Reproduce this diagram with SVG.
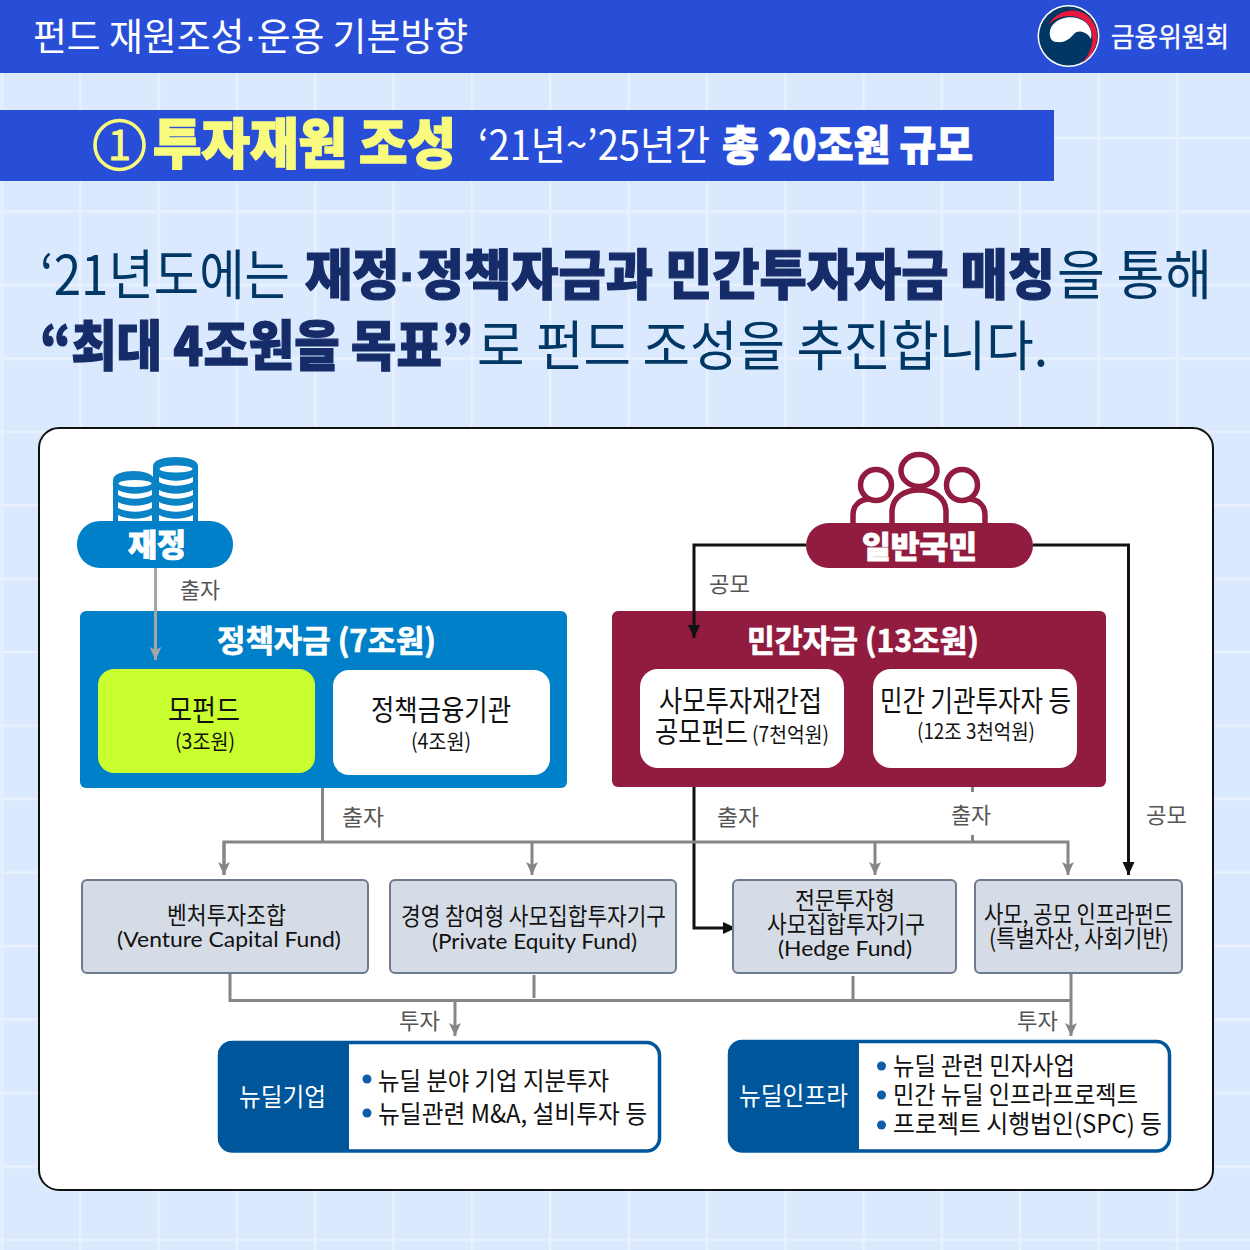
<svg xmlns="http://www.w3.org/2000/svg" width="1250" height="1250" viewBox="0 0 1250 1250">
<style>
text{font-family:"Noto Sans CJK KR","Noto Sans",sans-serif;font-weight:400;white-space:pre}
.w{fill:#fff}.k{fill:#111}
.b{font-weight:700;stroke:#fff;stroke-width:.7}
.h{font-weight:900}
.wh{stroke:#fff;stroke-width:.9}
.hd{fill:#003764;font-size:54px}
.hb{fill:#152c69;font-size:54px;font-weight:900;stroke:#152c69;stroke-width:1.2}
.lab{fill:#555;font-size:22px}
.t29{font-size:29px}.t21{font-size:21px}.t24{font-size:24px}.t25{font-size:25px}
.lat{font-family:"Lato","Noto Sans",sans-serif;font-size:22px}
.dot-f{font-family:"Liberation Sans",sans-serif}
.box{fill:#d6dce6;stroke:#6e7b8f;stroke-width:2}
.g{fill:none;stroke:#868686;stroke-width:3}
.bl{fill:none;stroke:#111;stroke-width:3}
.dark{fill:#00569a}
.dot{fill:#0f5ca8}
.coin{fill:#fff}
</style>
<defs>
<pattern id="grid" patternUnits="userSpaceOnUse" x="0.7" y="63.45" width="78.33" height="73.45">
<rect width="78.33" height="73.45" fill="#dbe9fe"/>
<rect width="2.4" height="73.45" fill="#e9f1fe"/>
<rect width="78.33" height="2.4" fill="#e9f1fe"/>
</pattern>
<marker id="ag" markerUnits="userSpaceOnUse" markerWidth="14" markerHeight="14" refX="13" refY="7" orient="auto"><path d="M0 1 L3 7 L0 13 L13 7 Z" fill="#868686"/></marker>
<marker id="ak" markerUnits="userSpaceOnUse" markerWidth="14" markerHeight="14" refX="13" refY="7" orient="auto"><path d="M0 1 L0 13 L13 7 Z" fill="#111"/></marker>
<marker id="al" markerUnits="userSpaceOnUse" markerWidth="14" markerHeight="14" refX="13" refY="7" orient="auto"><path d="M0 1 L3 7 L0 13 L13 7 Z" fill="#a5a5a5"/></marker>
</defs>
<rect width="1250" height="1250" fill="url(#grid)"/>

<g id="header">
<rect width="1250" height="73" fill="#284ed8"/>
<text class="w" x="33" y="49.500" font-size="38" font-weight="500" textLength="435" lengthAdjust="spacingAndGlyphs">펀드 재원조성<tspan class="dot-f">·</tspan>운용 기본방향</text>
<g id="logo">
<circle cx="1068.500" cy="36" r="31" fill="#fff"/>
<circle cx="1068.500" cy="36" r="29.500" fill="#003764"/>
<path d="M1048 25C1057 10 1076 6 1088 16C1102 29 1100 51 1082 63C1094 50 1096 32 1086 22C1076 13 1059 14 1048 25Z" fill="#e8193c"/>
<path d="M1050 36C1048 22 1064 15 1077 18C1088 21 1093 30 1091 39C1087 32 1079 29 1074 34C1069 40 1063 43 1058 42C1053 42 1051 40 1050 36Z" fill="#fff"/>
</g>
<text class="w wh" x="1111" y="46.500" font-size="27" font-weight="500" textLength="118" lengthAdjust="spacingAndGlyphs" style="stroke-width:.4">금융위원회</text>
</g>

<g id="section-bar">
<rect y="110" width="1054" height="71" fill="#284ed8"/>
<circle cx="119.500" cy="145" r="24.500" fill="none" stroke="#f9fb7e" stroke-width="3.600"/>
<text x="119.500" y="160" font-size="42" text-anchor="middle" fill="#f9fb7e" stroke="#f9fb7e" stroke-width=".8" font-family="Liberation Sans,sans-serif">1</text>
<text class="h" x="153" y="163.500" font-size="54" fill="#f9fb7e" stroke="#f9fb7e" stroke-width="1.600" textLength="303" lengthAdjust="spacingAndGlyphs">투자재원 조성</text>
<text class="w" x="478" y="160" font-size="41" font-weight="300" textLength="232" lengthAdjust="spacingAndGlyphs">‘21년~’25년간</text>
<text class="w h wh" x="722" y="160" font-size="41" textLength="251" lengthAdjust="spacingAndGlyphs">총 20조원 규모</text>
</g>

<g id="headline">
<text class="hd" x="40" y="295" font-weight="300" textLength="250" lengthAdjust="spacingAndGlyphs">‘21년도에는</text>
<text class="hb" x="305" y="295" textLength="750" lengthAdjust="spacingAndGlyphs">재정<tspan class="dot-f">·</tspan>정책자금과 민간투자자금 매칭</text>
<text class="hd" x="1057" y="295" font-weight="300" textLength="155" lengthAdjust="spacingAndGlyphs">을 통해</text>
<text class="hb" x="40" y="366" textLength="433" lengthAdjust="spacingAndGlyphs">“최대 4조원을 목표”</text>
<text class="hd" x="477" y="366" font-weight="300" textLength="571" lengthAdjust="spacingAndGlyphs">로 펀드 조성을 추진합니다.</text>
</g>

<rect id="panel" x="39" y="428" width="1174" height="762" rx="20" fill="#fff" stroke="#111" stroke-width="2"/>

<g id="node-jaejeong">
<g fill="#0a82c6">
<path d="M113 480C113 468 154 468 154 480V525H113Z"/>
<path d="M153 466C153 454 198 454 198 466V525H153Z"/>
</g>
<g class="coin">
<ellipse cx="135" cy="483.500" rx="16.500" ry="3.500"/>
<path d="M118 490C128 495 142 495 152 490V495C142 500 128 500 118 495Z"/>
<path d="M118 502C128 507 142 507 152 502V508C142 513 128 513 118 508Z"/>
<path d="M118 515C128 520 142 520 152 515V525H118Z"/>
<ellipse cx="176" cy="469" rx="16.500" ry="3.500"/>
<path d="M159 477C169 482 183 482 193 477V482C183 487 169 487 159 482Z"/>
<path d="M159 490C169 495 183 495 193 490V495C183 500 169 500 159 495Z"/>
<path d="M159 502C169 507 183 507 193 502V508C183 513 169 513 159 508Z"/>
<path d="M159 515C169 520 183 520 193 515V525H159Z"/>
</g>
<rect x="77" y="521" width="156" height="47" rx="23" fill="#0080c8"/>
<text class="w h wh" x="128" y="556" font-size="31" textLength="58" lengthAdjust="spacingAndGlyphs">재정</text>
</g>

<g id="node-public">
<g fill="none" stroke="#911c3f" stroke-width="5.500">
<path d="M853 523V515C853 505 860 500 868 499"/>
<path d="M985 523V515C985 505 978 500 970 499"/>
<path d="M892 523V512C892 497 905 490 919 490C933 490 946 497 946 512V523"/>
<ellipse cx="876" cy="485" rx="15.500" ry="15.500"/>
<ellipse cx="962" cy="485" rx="15.500" ry="15.500"/>
<ellipse cx="919" cy="470.500" rx="18" ry="16"/>
</g>
<rect x="806" y="523" width="227" height="45" rx="22.500" fill="#911c3f"/>
<text class="w h wh" x="862" y="557.500" font-size="31" textLength="115" lengthAdjust="spacingAndGlyphs">일반국민</text>
</g>

<g id="node-policy">
<rect x="80" y="611" width="487" height="177" rx="6" fill="#0080c8"/>
<text class="w b" x="217" y="652" font-size="31" textLength="219" lengthAdjust="spacingAndGlyphs">정책자금 (7조원)</text>
<rect x="98" y="669" width="217" height="104" rx="16" fill="#c9ff2e"/>
<text class="k t29" x="168" y="721" textLength="72" lengthAdjust="spacingAndGlyphs">모펀드</text>
<text class="k t21" x="175" y="749" textLength="60" lengthAdjust="spacingAndGlyphs">(3조원)</text>
<rect x="333" y="670" width="217" height="105" rx="16" fill="#fff"/>
<text class="k t29" x="371" y="721" textLength="140" lengthAdjust="spacingAndGlyphs">정책금융기관</text>
<text class="k t21" x="411" y="749" textLength="60" lengthAdjust="spacingAndGlyphs">(4조원)</text>
</g>

<g id="node-private">
<rect x="612" y="611" width="494" height="176" rx="6" fill="#911c3f"/>
<text class="w b" x="747" y="652" font-size="31" textLength="232" lengthAdjust="spacingAndGlyphs">민간자금 (13조원)</text>
<rect x="640" y="669" width="204" height="99" rx="18" fill="#fff"/>
<text class="k t29" x="659" y="712" textLength="163" lengthAdjust="spacingAndGlyphs">사모투자재간접</text>
<text class="k t29" x="655" y="743" textLength="93" lengthAdjust="spacingAndGlyphs">공모펀드</text>
<text class="k t21" x="752" y="742" textLength="77" lengthAdjust="spacingAndGlyphs">(7천억원)</text>
<rect x="873" y="669" width="204" height="99" rx="18" fill="#fff"/>
<text class="k t29" x="880" y="712" textLength="191" lengthAdjust="spacingAndGlyphs">민간 기관투자자 등</text>
<text class="k t21" x="917" y="739" textLength="118" lengthAdjust="spacingAndGlyphs">(12조 3천억원)</text>
</g>

<g id="connectors">
<path d="M155.500 568V660" fill="none" stroke="#a5a5a5" stroke-width="3" marker-end="url(#al)"/>
<path class="bl" d="M806 545H694V638" marker-end="url(#ak)"/>
<path class="bl" d="M1033 545H1128.500V875" marker-end="url(#ak)"/>
<path class="bl" d="M694 787V928H736" marker-end="url(#ak)"/>
<path class="g" d="M322.500 788V842"/>
<path class="g" d="M224 875V842H1068V875" marker-end="url(#ag)"/>
<path class="g" d="M224 842V875" marker-end="url(#ag)"/>
<path class="g" d="M532 842V875" marker-end="url(#ag)"/>
<path class="g" d="M875 842V875" marker-end="url(#ag)"/>
<path class="g" d="M972.500 787V792M972.500 835V842"/>
<path class="g" d="M230 973V1000.500H1071"/>
<path class="g" d="M534 975V998"/>
<path class="g" d="M853 976V1000"/>
<path class="g" d="M1071 973V1036" marker-end="url(#ag)"/>
<path class="g" d="M455 1000V1036" marker-end="url(#ag)"/>
</g>

<g id="labels">
<text class="lab" x="180" y="598" textLength="40" lengthAdjust="spacingAndGlyphs">출자</text>
<text class="lab" x="709" y="592" textLength="41" lengthAdjust="spacingAndGlyphs">공모</text>
<text class="lab" x="342" y="825" textLength="42" lengthAdjust="spacingAndGlyphs">출자</text>
<text class="lab" x="717" y="825" textLength="42" lengthAdjust="spacingAndGlyphs">출자</text>
<text class="lab" x="951" y="823" textLength="40" lengthAdjust="spacingAndGlyphs">출자</text>
<text class="lab" x="1146" y="823" textLength="41" lengthAdjust="spacingAndGlyphs">공모</text>
<text class="lab" x="399" y="1029" textLength="41" lengthAdjust="spacingAndGlyphs">투자</text>
<text class="lab" x="1017" y="1029" textLength="41" lengthAdjust="spacingAndGlyphs">투자</text>
</g>

<g id="node-vc">
<rect class="box" x="82" y="880" width="286" height="93" rx="5"/>
<text class="k t24" x="167" y="924" textLength="119" lengthAdjust="spacingAndGlyphs">벤처투자조합</text>
<text class="k lat" x="117" y="947" textLength="224" lengthAdjust="spacingAndGlyphs">(Venture Capital Fund)</text>
</g>
<g id="node-pe">
<rect class="box" x="390" y="880" width="286" height="93" rx="5"/>
<text class="k t24" x="401" y="925" textLength="265" lengthAdjust="spacingAndGlyphs">경영 참여형 사모집합투자기구</text>
<text class="k lat" x="432" y="949" textLength="205" lengthAdjust="spacingAndGlyphs">(Private Equity Fund)</text>
</g>
<g id="node-hedge">
<rect class="box" x="733" y="880" width="223" height="93" rx="5"/>
<text class="k t24" x="795" y="909" textLength="100" lengthAdjust="spacingAndGlyphs">전문투자형</text>
<text class="k t24" x="767" y="933" textLength="158" lengthAdjust="spacingAndGlyphs">사모집합투자기구</text>
<text class="k lat" x="778" y="956" textLength="134" lengthAdjust="spacingAndGlyphs">(Hedge Fund)</text>
</g>
<g id="node-infra-fund">
<rect class="box" x="975" y="880" width="207" height="93" rx="5"/>
<text class="k t24" x="984" y="923" textLength="189" lengthAdjust="spacingAndGlyphs">사모, 공모 인프라펀드</text>
<text class="k t24" x="989" y="947" textLength="180" lengthAdjust="spacingAndGlyphs">(특별자산, 사회기반)</text>
</g>

<g id="node-newdeal-firm">
<rect x="219.500" y="1042.500" width="440" height="108.500" rx="13" fill="#fff" stroke="#00569a" stroke-width="3.500"/>
<path class="dark" d="M349 1041H232a14 14 0 0 0 -14 14V1138a14 14 0 0 0 14 14H349Z"/>
<text class="w t25" x="239" y="1106" textLength="87" lengthAdjust="spacingAndGlyphs">뉴딜기업</text>
<circle class="dot" cx="367" cy="1079" r="4.500"/>
<text class="k t25" x="378" y="1090" textLength="231" lengthAdjust="spacingAndGlyphs">뉴딜 분야 기업 지분투자</text>
<circle class="dot" cx="367" cy="1113" r="4.500"/>
<text class="k t25" x="378" y="1123" textLength="269" lengthAdjust="spacingAndGlyphs">뉴딜관련 M&amp;A, 설비투자 등</text>
</g>
<g id="node-newdeal-infra">
<rect x="729.500" y="1041.500" width="440" height="109.500" rx="13" fill="#fff" stroke="#00569a" stroke-width="3.500"/>
<path class="dark" d="M859 1040H742a14 14 0 0 0 -14 14V1138a14 14 0 0 0 14 14H859Z"/>
<text class="w t25" x="739" y="1105" textLength="109" lengthAdjust="spacingAndGlyphs">뉴딜인프라</text>
<circle class="dot" cx="881.500" cy="1066" r="4.500"/>
<text class="k t25" x="893" y="1075" textLength="182" lengthAdjust="spacingAndGlyphs">뉴딜 관련 민자사업</text>
<circle class="dot" cx="881.500" cy="1095" r="4.500"/>
<text class="k t25" x="893" y="1104" textLength="245" lengthAdjust="spacingAndGlyphs">민간 뉴딜 인프라프로젝트</text>
<circle class="dot" cx="881.500" cy="1125" r="4.500"/>
<text class="k t25" x="893" y="1133" textLength="269" lengthAdjust="spacingAndGlyphs">프로젝트 시행법인(SPC) 등</text>
</g>
</svg>
